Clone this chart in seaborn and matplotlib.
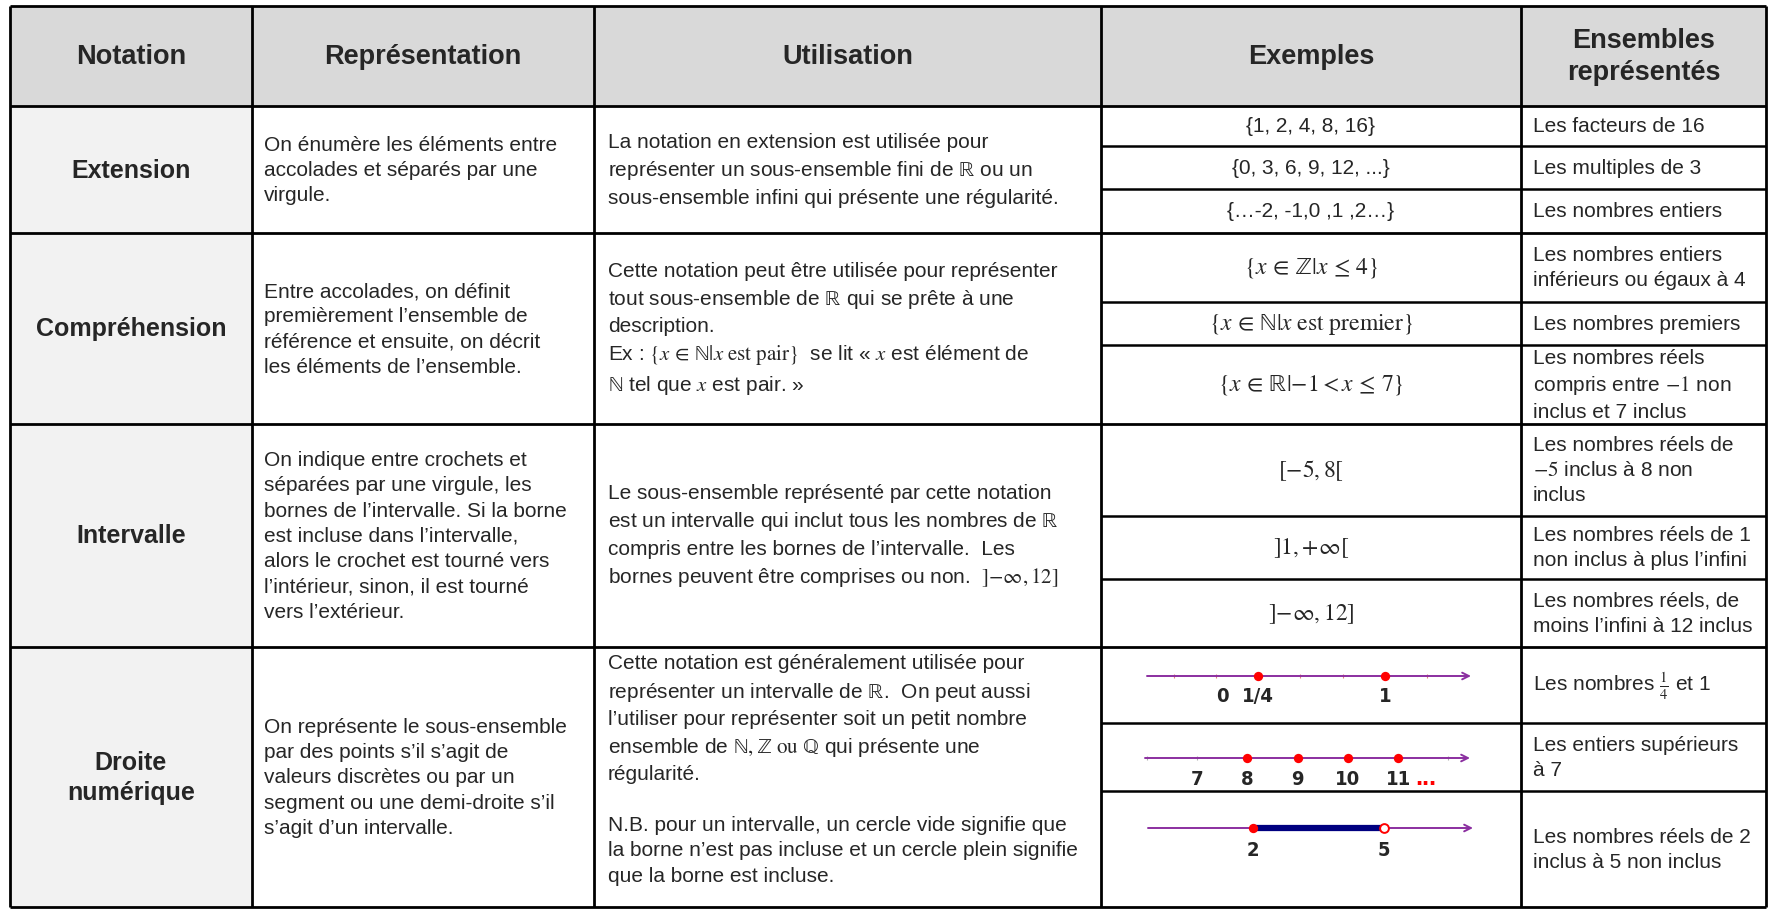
import numpy as np
import matplotlib.pyplot as plt
import seaborn as sns

sns.set_theme(style="white")
plt.rcParams['font.family'] = ['Liberation Sans', 'DejaVu Sans']
plt.rcParams['mathtext.fontset'] = 'stix'

# ---- table content ----
headers = ["Notation", "Représentation", "Utilisation", "Exemples", "Ensembles\nreprésentés"]
notations = ["Extension", "Compréhension", "Intervalle", "Droite\nnumérique"]
representations = [
    "On énumère les éléments entre\naccolades et séparés par une\nvirgule.",
    "Entre accolades, on définit\npremièrement l’ensemble de\nréférence et ensuite, on décrit\nles éléments de l’ensemble.",
    "On indique entre crochets et\nséparées par une virgule, les\nbornes de l’intervalle. Si la borne\n"
    "est incluse dans l’intervalle,\nalors le crochet est tourné vers\nl’intérieur, sinon, il est tourné\nvers l’extérieur.",
    "On représente le sous-ensemble\npar des points s’il s’agit de\nvaleurs discrètes ou par un\n"
    "segment ou une demi-droite s’il\ns’agit d’un intervalle.",
]
utilisations = [
    "La notation en extension est utilisée pour\nreprésenter un sous-ensemble fini de $\\mathrm{ℝ}$ ou un\n"
    "sous-ensemble infini qui présente une régularité.",
    "Cette notation peut être utilisée pour représenter\ntout sous-ensemble de $\\mathrm{ℝ}$ qui se prête à une\n"
    "description.\nEx : $\\{x\\, \\in\\, \\mathrm{ℕ} | x\\ \\mathrm{est\\ pair}\\}$  se lit « $x$ est élément de\n"
    "$\\mathrm{ℕ}$ tel que $x$ est pair. »",
    "Le sous-ensemble représenté par cette notation\nest un intervalle qui inclut tous les nombres de $\\mathrm{ℝ}$\n"
    "compris entre les bornes de l’intervalle.  Les\nbornes peuvent être comprises ou non.  $]{-\\infty}, 12]$",
    "Cette notation est généralement utilisée pour\nreprésenter un intervalle de $\\mathrm{ℝ}$.  On peut aussi\n"
    "l’utiliser pour représenter soit un petit nombre\n"
    "ensemble de $\\mathrm{ℕ}, \\mathrm{ℤ}\\ \\mathrm{ou}\\ \\mathrm{ℚ}$ qui présente une\nrégularité.\n\n"
    "N.B. pour un intervalle, un cercle vide signifie que\nla borne n’est pas incluse et un cercle plein signifie\n"
    "que la borne est incluse.",
]
exemples = [
    ["{1, 2, 4, 8, 16}", "{0, 3, 6, 9, 12, ...}", "{…-2, -1,0 ,1 ,2…}"],
    [r"$\{x\, \in\, \mathrm{ℤ} | x\, \leq\, 4\}$", r"$\{x\, \in\, \mathrm{ℕ} | x\ \mathrm{est\ premier}\}$",
     r"$\{x\, \in\, \mathrm{ℝ} | {-1} < x\, \leq\, 7\}$"],
    [r"$[{-5}, 8[$", r"$]1, {+\infty}[$", r"$]{-\infty}, 12]$"],
]
ensembles = [
    ["Les facteurs de 16", "Les multiples de 3", "Les nombres entiers"],
    ["Les nombres entiers\ninférieurs ou égaux à 4", "Les nombres premiers",
     "Les nombres réels\ncompris entre $-1$ non\ninclus et 7 inclus"],
    ["Les nombres réels de\n$-5$ inclus à 8 non\ninclus", "Les nombres réels de 1\nnon inclus à plus l’infini",
     "Les nombres réels, de\nmoins l’infini à 12 inclus"],
    [r"Les nombres $\frac{1}{4}$ et 1", "Les entiers supérieurs\nà 7", "Les nombres réels de 2\ninclus à 5 non inclus"],
]

# number lines
nl1_ticks = [-0.25, 0, 0.25, 0.5, 0.75, 1, 1.25]
nl1_points = [0.25, 1]
nl1_label_pos = [0.04, 0.25, 1]
nl1_label_txt = ["0", "1/4", "1"]

nl2_ticks = [6, 7, 8, 9, 10, 11, 12]
nl2_points = [8, 9, 10, 11]
nl2_label_pos = [7, 8, 9, 10, 11]

nl3_bounds = [2, 5]   # [2, 5[

# ---- layout (pixels) ----
W, H = 1774, 912
col_edges = [10, 252, 594, 1101, 1521, 1766]
row_edges = [7, 107, 234, 425, 648, 908]
sub_edges = [[147, 190], [303, 346], [517, 580], [724, 792]]

fig = plt.figure(figsize=(W / 100, H / 100), dpi=100)
ax = fig.add_axes([0, 0, 1, 1])
ax.set_xlim(0, W)
ax.set_ylim(H, 0)
ax.axis('off')

# fills
ax.fill_between([col_edges[0], col_edges[-1]], row_edges[0], row_edges[1], color='#D9D9D9', lw=0)
ax.fill_between([col_edges[0], col_edges[1]], row_edges[1], row_edges[-1], color='#F2F2F2', lw=0)

# grid lines
ax.hlines(row_edges, col_edges[0], col_edges[-1], color='black', lw=2.0)
ax.vlines(col_edges, row_edges[0], row_edges[-1], color='black', lw=2.0)
for subs in sub_edges:
    ax.hlines(subs, col_edges[3], col_edges[5], color='black', lw=1.8)

body = 15
ls_body = 1.42
# headers
for i, h in enumerate(headers):
    cx = (col_edges[i] + col_edges[i + 1]) / 2
    ax.text(cx, (row_edges[0] + row_edges[1]) / 2, h, ha='center', va='center',
            fontsize=19.5, fontweight='bold', linespacing=1.3)

for r in range(4):
    y0, y1 = row_edges[r + 1], row_edges[r + 2]
    cy = (y0 + y1) / 2
    ax.text((col_edges[0] + col_edges[1]) / 2, cy, notations[r], ha='center', va='center',
            fontsize=18, fontweight='bold', linespacing=1.35)
    ax.text(col_edges[1] + 12, cy, representations[r], ha='left', va='center',
            fontsize=body, linespacing=ls_body)
    ax.text(col_edges[2] + 14, cy - (8 if r == 3 else 0), utilisations[r], ha='left', va='center',
            fontsize=body, linespacing=ls_body)
    bounds = [y0] + sub_edges[r] + [y1]
    for k in range(3):
        sy = (bounds[k] + bounds[k + 1]) / 2
        if r < 3:
            fs = body if r == 0 else 17
            ax.text((col_edges[3] + col_edges[4]) / 2, sy, exemples[r][k], ha='center', va='center',
                    fontsize=fs)
        ax.text(col_edges[4] + 12, sy, ensembles[r][k], ha='left', va='center',
                fontsize=body, linespacing=1.4)

# ---- number lines ----
purple = '#8B2FA0'
lab_font = dict(fontsize=14.5, fontweight='bold', fontstretch='condensed', family='DejaVu Sans')


def number_line(px0, px1, py, xlim):
    a = fig.add_axes([px0 / W, 1 - (py + 32) / H, (px1 - px0) / W, 64 / H])
    a.set_xlim(*xlim)
    a.set_ylim(-32, 32)
    a.axis('off')
    a.annotate('', xy=(xlim[1], 0), xytext=(xlim[0], 0),
               arrowprops=dict(arrowstyle='->', color=purple, lw=1.4, mutation_scale=12,
                               shrinkA=0, shrinkB=0))
    return a


a1 = number_line(1147, 1471, 677, (-0.408, 1.509))
a1.vlines(nl1_ticks, -2, 2, color='#E08080', lw=0.8)
sns.scatterplot(x=nl1_points, y=np.zeros(len(nl1_points)), color='red', s=45, linewidth=0, ax=a1, zorder=5)
for v, t in zip(nl1_label_pos, nl1_label_txt):
    a1.text(v, -19, t, ha='center', va='center', **lab_font)

a2 = number_line(1145, 1470, 759, (5.965, 12.43))
a2.vlines(nl2_ticks, -2, 2, color='#B0B0B0', lw=0.8)
sns.scatterplot(x=nl2_points, y=np.zeros(len(nl2_points)), color='red', s=45, linewidth=0, ax=a2, zorder=5)
for v in nl2_label_pos:
    a2.text(v, -21, str(v), ha='center', va='center', **lab_font)
a2.text(nl2_points[-1] + 0.35, -19, '...', ha='left', va='center', color='red',
        fontsize=18, fontweight='bold')

a3 = number_line(1148, 1473, 829, (-0.40, 7.04))
sns.lineplot(x=nl3_bounds, y=[0, 0], color='#000080', lw=4.5, ax=a3, zorder=4)
sns.scatterplot(x=nl3_bounds[:1], y=[0], color='red', s=45, linewidth=0, ax=a3, zorder=5)
a3.scatter(nl3_bounds[1:], [0], s=40, facecolor='white', edgecolor='red', linewidth=1.4, zorder=6)
for v in nl3_bounds:
    a3.text(v, -22, str(v), ha='center', va='center', **lab_font)

fig.savefig("out.png", dpi=100)
